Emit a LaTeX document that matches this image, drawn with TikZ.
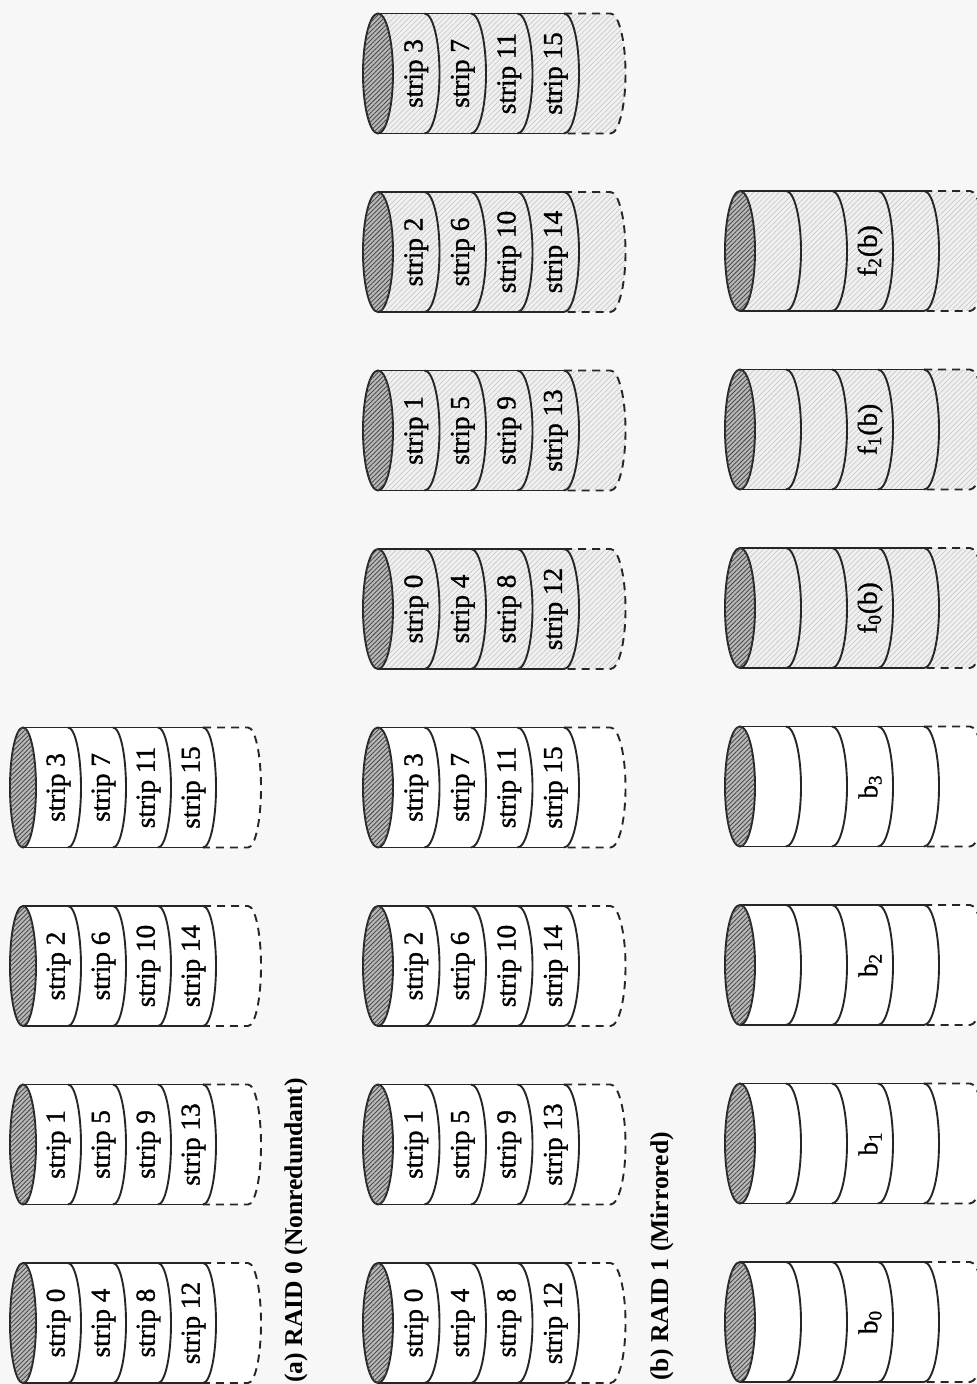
\documentclass[tikz,border=0pt]{standalone}
\usepackage{fontspec}
\setmainfont{Liberation Serif}
\newfontfamily\labelfont[FakeBold=1.2]{Liberation Serif}
\usetikzlibrary{patterns.meta}
\tikzset{
  px/.style={x=0.5pt,y=-0.5pt},
  disk line/.style={line width=0.95pt, draw=black!85},
  dash line/.style={line width=0.95pt, draw=black!85, dash pattern=on 4pt off 3pt},
  cap fill/.style={fill=gray!55, postaction={pattern={Lines[angle=45,distance=1.6pt,line width=0.45pt]}, pattern color=black!70}},
  plain body/.style={fill=white},
  mirror body/.style={fill=gray!12, postaction={pattern={Lines[angle=45,distance=1.8pt,line width=0.3pt]}, pattern color=gray!45}},
  strip label/.style={rotate=90, font=\labelfont\fontsize{13.6}{15}\selectfont, inner sep=0pt},
  caption label/.style={rotate=90, font=\fontsize{12.8}{15}\selectfont\bfseries, inner sep=0pt, anchor=west},
}
% #1 cx, #2 cy, #3 d, #4 rx, #5 shaded body (0/1)
\newcommand{\drawdisk}[5]{%
  \ifnum#5=1
    \fill[mirror body] ({#1},{#2-60}) -- ({#1+5*#3},{#2-60}) arc[start angle=-90,end angle=90,x radius=#4,y radius=60] -- ({#1},{#2+60}) -- cycle;
  \else
    \fill[plain body] ({#1},{#2-60}) -- ({#1+5*#3},{#2-60}) arc[start angle=-90,end angle=90,x radius=#4,y radius=60] -- ({#1},{#2+60}) -- cycle;
  \fi
  \draw[dash line] ({#1+4*#3},{#2-60}) -- ({#1+5*#3},{#2-60}) arc[start angle=-90,end angle=90,x radius=#4,y radius=60] -- ({#1+4*#3},{#2+60});
  \draw[disk line] ({#1},{#2-60}) -- ({#1+4*#3},{#2-60});
  \draw[disk line] ({#1},{#2+60}) -- ({#1+4*#3},{#2+60});
  \foreach \kk in {1,...,4}{
    \draw[disk line] ({#1+\kk*#3},{#2-60}) arc[start angle=-90,end angle=90,x radius=#4,y radius=60];
  }
  \draw[disk line, cap fill] ({#1},{#2}) ellipse [x radius=#4, y radius=60];
}
\begin{document}
\begin{tikzpicture}[px]
\useasboundingbox (0,0) rectangle (977,1384);
\clip (0,0) rectangle (977,1384);
\fill[black!3] (0,0) rectangle (977,1384);

% (a) RAID 0
\foreach \i in {0,...,3}{
  \pgfmathsetmacro\cy{1323-178.5*\i}
  \drawdisk{23}{\cy}{45}{13}{0}
  \foreach \k in {0,...,3}{
    \pgfmathtruncatemacro\s{\i+4*\k}
    \node[strip label] (a\i s\k) at ({23+(\k+0.5)*45+13},\cy) {strip \s};
  }
}
\node[caption label] (capa) at (296,1383) {(a) RAID 0 (Nonredundant)};

% (b) RAID 1
\foreach \j in {0,...,7}{
  \pgfmathsetmacro\cy{1323-178.5*\j}
  \pgfmathtruncatemacro\i{mod(\j,4)}
  \pgfmathtruncatemacro\sh{\j>3 ? 1 : 0}
  \drawdisk{378}{\cy}{46.5}{15}{\sh}
  \foreach \k in {0,...,3}{
    \pgfmathtruncatemacro\s{\i+4*\k}
    \node[strip label] (b\j s\k) at ({378+(\k+0.5)*46.5+15},\cy) {strip \s};
  }
}
\node[caption label] (capb) at (662,1381) {(b) RAID 1 (Mirrored)};

% RAID 2
\foreach \j in {0,...,6}{
  \pgfmathsetmacro\cy{1322-178.5*\j}
  \pgfmathtruncatemacro\sh{\j>3 ? 1 : 0}
  \drawdisk{740}{\cy}{46}{15}{\sh}
  \ifnum\j<4
    \node[strip label] (c\j) at ({740+2.5*46+15},\cy) {b\textsubscript{\j}};
  \else
    \pgfmathtruncatemacro\f{\j-4}
    \node[strip label] (c\j) at ({740+2.5*46+15},\cy) {f\textsubscript{\f}(b)};
  \fi
}
\end{tikzpicture}
\end{document}
